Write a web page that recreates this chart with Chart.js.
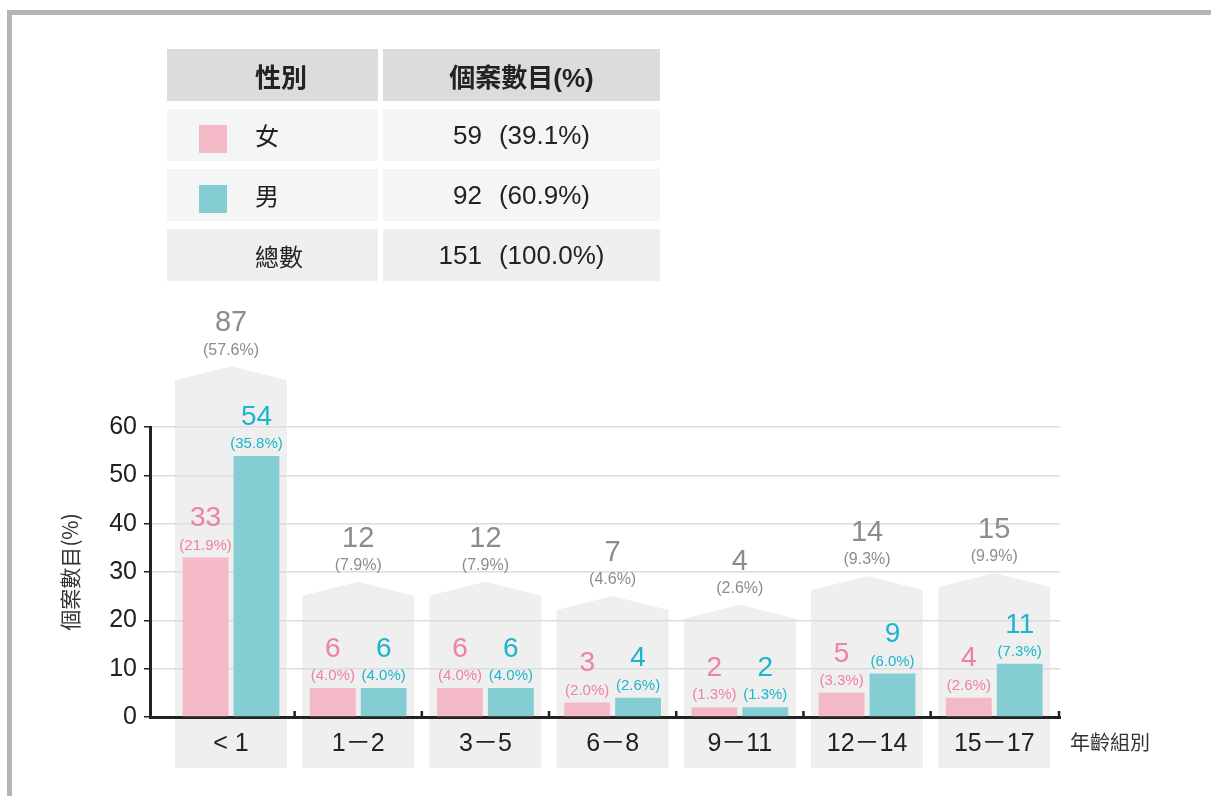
<!DOCTYPE html>
<html lang="zh-Hant">
<head>
<meta charset="UTF-8">
<script src="https://cdn.jsdelivr.net/npm/chart.js"></script>
<title>個案數目</title>
<style>
    body { margin: 0; background: #fff; font-family: "Liberation Sans", "Noto Sans CJK TC", sans-serif; }
    .frame { position: absolute; left: 7px; top: 10px; width: 1300px; height: 900px;
             border-top: 5px solid #b5b5b5; border-left: 5px solid #b5b5b5; }
    #wrap { position: absolute; left: 0; top: 0; width: 1211px; height: 796px; }
    table.summary { position: absolute; left: 162px; top: 41px; border-collapse: separate;
                    border-spacing: 5px 8px; font-size: 24px; color: #222; }
    table.summary td, table.summary th { height: 52px; padding: 0; }
    table.summary th { background: #dcdcdc; font-weight: bold; font-size: 26px; }
    table.summary td { background: #f4f6f5; }
    table.summary tr.total td { background: #eeefee; }
    .c1 { width: 211px; text-align: left; padding-left: 88px !important; box-sizing: border-box; }
    .c1.sw { padding-left: 32px !important; }
    .c2 { width: 277px; text-align: center; }
    .num { font-size: 26px; }
    .swatch { display: inline-block; width: 28px; height: 28px; vertical-align: middle; margin-right: 28px; }
    .gap { margin-left: 17px; }
</style>
</head>
<body>
<div class="frame"></div>
<div id="wrap"><canvas id="ageChart" width="1211" height="796"></canvas></div>

<!-- summary table by gender -->
<table class="summary" id="summary"></table>

<script>
// age groups and counts
const categories = ['< 1', '1－2', '3－5', '6－8', '9－11', '12－14', '15－17'];
const female = [33, 6, 6, 3, 2, 5, 4];
const femalePct = [21.9, 4.0, 4.0, 2.0, 1.3, 3.3, 2.6];
const male = [54, 6, 6, 4, 2, 9, 11];
const malePct = [35.8, 4.0, 4.0, 2.6, 1.3, 6.0, 7.3];
const totals = [87, 12, 12, 7, 4, 14, 15];
const totalPct = [57.6, 7.9, 7.9, 4.6, 2.6, 9.3, 9.9];
const yTicks = [0, 10, 20, 30, 40, 50, 60];

// gender summary
const genders = ['女', '男', '總數'];
const genderCounts = [59, 92, 151];
const genderPct = [39.1, 60.9, 100.0];

const pink = '#f4b9c6';
const teal = '#83cdd3';
const pinkText = '#ee82a1';
const tealText = '#1db5cb';

// build the table
const swatches = [pink, teal, null];
let rows = '<tr><th class="c1">性別</th><th class="c2">個案數目(%)</th></tr>';
genders.forEach((g, i) => {
    const sw = swatches[i];
    rows += `<tr class="${sw ? '' : 'total'}">
        <td class="c1 ${sw ? 'sw' : ''}">${sw ? `<span class="swatch" style="background:${sw}"></span>` : ''}${g}</td>
        <td class="c2 num">${genderCounts[i]}<span class="gap">(${genderPct[i].toFixed(1)}%)</span></td></tr>`;
});
document.getElementById('summary').innerHTML = rows;

const numFont = '"Liberation Sans", "Noto Sans CJK TC", sans-serif';

// gray "house" shapes behind each age group, height from the total
const housePlugin = {
    id: 'houses',
    beforeDraw(chart) {
        const { ctx, chartArea, scales: { x, y2 } } = chart;
        const step = x.getPixelForValue(1) - x.getPixelForValue(0);
        const half = step * 0.44;
        ctx.save();
        ctx.fillStyle = '#eeefee';
        totals.forEach((t, i) => {
            const cx = x.getPixelForValue(i);
            const top = y2.getPixelForValue(t);
            ctx.beginPath();
            ctx.moveTo(cx - half, chartArea.bottom + 51);
            ctx.lineTo(cx - half, top);
            ctx.lineTo(cx, top - 14);
            ctx.lineTo(cx + half, top);
            ctx.lineTo(cx + half, chartArea.bottom + 51);
            ctx.closePath();
            ctx.fill();
        });
        ctx.restore();
    },
    afterDatasetsDraw(chart) {
        const { ctx, chartArea, scales: { x, y2 } } = chart;
        ctx.save();
        ctx.textAlign = 'center';
        ctx.textBaseline = 'middle';

        // totals above the houses
        totals.forEach((t, i) => {
            const cx = x.getPixelForValue(i);
            const peak = y2.getPixelForValue(t) - 14;
            ctx.fillStyle = '#8c8c8c';
            ctx.font = '29px ' + numFont;
            ctx.fillText(String(t), cx, peak - 43);
            ctx.font = '16px ' + numFont;
            ctx.fillText('(' + totalPct[i].toFixed(1) + '%)', cx, peak - 16);
        });

        // labels above bars
        [[0, female, femalePct, pinkText], [1, male, malePct, tealText]].forEach(([di, vals, pcts, col]) => {
            chart.getDatasetMeta(di).data.forEach((bar, i) => {
                ctx.fillStyle = col;
                ctx.font = '28px ' + numFont;
                ctx.fillText(String(vals[i]), bar.x, bar.y - 39);
                ctx.font = '15px ' + numFont;
                ctx.fillText('(' + pcts[i].toFixed(1) + '%)', bar.x, bar.y - 12);
            });
        });

        // small tick marks between the groups, pointing up
        ctx.strokeStyle = '#222';
        ctx.lineWidth = 2.5;
        const marks = categories.slice(1).map((c, i) => i + 0.5).concat([x.max]);
        marks.forEach(v => {
            const px = Math.min(x.getPixelForValue(v), chartArea.right - 1);
            ctx.beginPath();
            ctx.moveTo(px, chartArea.bottom);
            ctx.lineTo(px, chartArea.bottom - 6);
            ctx.stroke();
        });

        // x axis title
        ctx.fillStyle = '#333';
        ctx.textAlign = 'left';
        ctx.font = '20px "Noto Sans CJK TC", sans-serif';
        ctx.fillText('年齡組別', chartArea.right + 10, chartArea.bottom + 25);
        ctx.restore();
    }
};

const ctx = document.getElementById('ageChart').getContext('2d');
new Chart(ctx, {
    type: 'bar',
    data: {
        datasets: [
            {
                label: '女',
                data: female.map((v, i) => ({ x: i, y: v })),
                backgroundColor: pink
            },
            {
                label: '男',
                data: male.map((v, i) => ({ x: i, y: v })),
                backgroundColor: teal
            }
        ]
    },
    options: {
        responsive: false,
        animation: false,
        categoryPercentage: 0.8,
        barPercentage: 0.9,
        layout: { padding: { top: 427, right: 151, left: 0, bottom: 0 } },
        plugins: { legend: { display: false }, tooltip: { enabled: false } },
        scales: {
            x: {
                type: 'linear',
                offset: false,
                min: -0.637,
                max: 6.517,
                afterBuildTicks: scale => { scale.ticks = categories.map((c, i) => ({ value: i })); },
                afterFit: scale => { scale.height = 79; },
                grid: { display: false, drawTicks: false },
                border: { display: true, color: '#222', width: 3 },
                ticks: {
                    autoSkip: false,
                    maxRotation: 0,
                    padding: 12,
                    color: '#222',
                    font: { size: 25, family: numFont },
                    callback: v => categories[v]
                }
            },
            y: {
                min: 0,
                max: 60,
                afterBuildTicks: scale => { scale.ticks = yTicks.map(v => ({ value: v })); },
                afterFit: scale => { scale.width = 150; },
                grid: {
                    color: c => (c.tick && c.tick.value === 0 ? 'rgba(0,0,0,0)' : '#dcdcdc'),
                    lineWidth: 1.5,
                    tickColor: '#222',
                    tickLength: 6
                },
                border: { display: true, color: '#222', width: 3 },
                ticks: { padding: 7, color: '#222', font: { size: 25, family: numFont } },
                title: {
                    display: true,
                    text: '個案數目(%)',
                    color: '#333',
                    font: { size: 21, family: '"Noto Sans CJK TC", sans-serif' },
                    padding: { top: 57 }
                }
            },
            // hidden scale for the height of the gray total shapes
            y2: {
                display: false,
                min: -30.2,
                max: 70.7
            }
        }
    },
    plugins: [housePlugin]
});
</script>
</body>
</html>
